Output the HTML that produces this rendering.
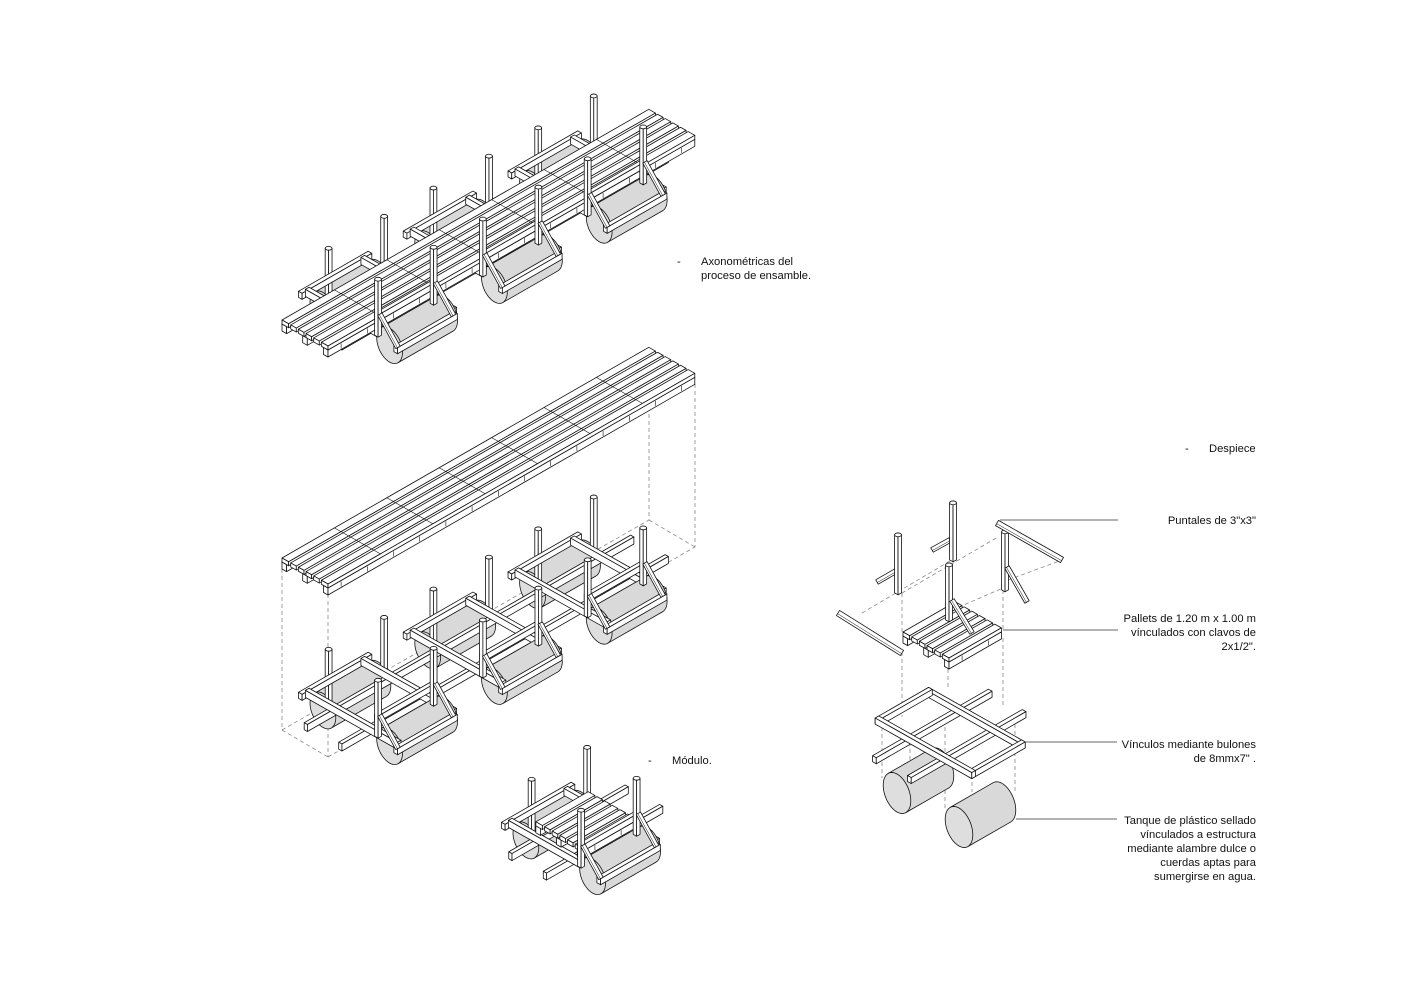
<!DOCTYPE html>
<html><head><meta charset="utf-8">
<style>
html,body{margin:0;padding:0;background:#fff;}
body{width:1414px;height:1000px;overflow:hidden;position:relative;}
svg{position:absolute;left:0;top:0;}
.t{font-family:"Liberation Sans",Arial,sans-serif;font-size:11.2px;fill:#111;}
.r{text-anchor:end;}
</style></head><body>
<svg id="d" width="1414" height="1000" viewBox="0 0 1414 1000" xmlns="http://www.w3.org/2000/svg">
<rect width="1414" height="1000" fill="#fff"/>
<g id="g"></g>
<g id="lead" stroke="#333" stroke-width="0.8">
<line x1="1000" y1="520" x2="1118" y2="520"/>
<line x1="1003" y1="630" x2="1118" y2="630"/>
<line x1="1024" y1="742" x2="1117" y2="742"/>
<line x1="1016" y1="819" x2="1117" y2="819"/>
</g>
<g id="txt">
<text class="t" x="677" y="265">-</text>
<text class="t" x="701" y="265">Axonométricas del</text>
<text class="t" x="701" y="279">proceso de ensamble.</text>
<text class="t" x="1185" y="452">-</text>
<text class="t" x="1209" y="452">Despiece</text>
<text class="t" x="648" y="764">-</text>
<text class="t" x="672" y="764">Módulo.</text>
<text class="t r" x="1256" y="524">Puntales de 3"x3"</text>
<text class="t r" x="1256" y="622">Pallets de 1.20 m x 1.00 m</text>
<text class="t r" x="1256" y="636">vínculados con clavos de</text>
<text class="t r" x="1256" y="650">2x1/2".</text>
<text class="t r" x="1256" y="748">Vínculos mediante bulones</text>
<text class="t r" x="1256" y="762">de 8mmx7" .</text>
<text class="t r" x="1256" y="824">Tanque de plástico sellado</text>
<text class="t r" x="1256" y="838">vínculados a estructura</text>
<text class="t r" x="1256" y="852">mediante alambre dulce o</text>
<text class="t r" x="1256" y="866">cuerdas aptas para</text>
<text class="t r" x="1256" y="880">sumergirse en agua.</text>
</g>
</svg>
<script>
(function(){
const g=document.getElementById('g');
const NS='http://www.w3.org/2000/svg';
const A=[52.4,-30.1],B=[46,26];
const SW=0.8;
function P(o,x,y,z){return[o[0]+x*A[0]+y*B[0],o[1]+x*A[1]+y*B[1]-z];}
function el(n,at){const e=document.createElementNS(NS,n);for(const k in at)e.setAttribute(k,at[k]);g.appendChild(e);return e;}
function pts(a){return a.map(p=>p[0].toFixed(2)+','+p[1].toFixed(2)).join(' ');}
function poly(a,fill,sw){el('polygon',{points:pts(a),fill:fill||'#fff',stroke:'#111','stroke-width':sw||SW,'stroke-linejoin':'round'});}
function ln(p,q,o){o=o||{};el('line',{x1:p[0].toFixed(2),y1:p[1].toFixed(2),x2:q[0].toFixed(2),y2:q[1].toFixed(2),stroke:o.c||'#111','stroke-width':o.w||SW,'stroke-dasharray':o.d||'none','stroke-linecap':'butt'});}
function dash(p,q){ln(p,q,{c:'#8a8a8a',w:0.8,d:'4 3'});}
function box(o,x0,x1,y0,y1,z0,z1,fill){
 poly([P(o,x0,y0,z1),P(o,x1,y0,z1),P(o,x1,y1,z1),P(o,x0,y1,z1)],fill);
 poly([P(o,x0,y0,z1),P(o,x0,y1,z1),P(o,x0,y1,z0),P(o,x0,y0,z0)],fill);
 poly([P(o,x0,y1,z1),P(o,x1,y1,z1),P(o,x1,y1,z0),P(o,x0,y1,z0)],fill);
}
function obar(p,q,w){
 const dx=q[0]-p[0],dy=q[1]-p[1],L=Math.hypot(dx,dy),ux=dx/L,uy=dy/L,nx=-uy*w/2,ny=ux*w/2;
 poly([[p[0]+nx,p[1]+ny],[q[0]+nx,q[1]+ny],[q[0]-nx,q[1]-ny],[p[0]-nx,p[1]-ny]]);
 ln([p[0]+nx*0.25,p[1]+ny*0.25],[q[0]+nx*0.25,q[1]+ny*0.25],{w:0.5});
}
function cyl(o,x0,x1,yc,zc,ry,rz,fill){
 fill=fill||'#d9d9d9';
 const U=[ry*B[0],ry*B[1]],V=[0,-rz];
 const c0=P(o,x0,yc,zc),c1=P(o,x1,yc,zc);
 const E=(c,t)=>[c[0]+U[0]*Math.cos(t)+V[0]*Math.sin(t),c[1]+U[1]*Math.cos(t)+V[1]*Math.sin(t)];
 const ell=c=>{const a=[];for(let i=0;i<64;i++)a.push(E(c,i/64*2*Math.PI));return a;};
 const cr=(p,q)=>p[0]*q[1]-p[1]*q[0];
 const t0=Math.atan2(cr(V,A),cr(U,A));
 poly(ell(c1),fill);
 el('polygon',{points:pts([E(c0,t0),E(c1,t0),E(c1,t0+Math.PI),E(c0,t0+Math.PI)]),fill:fill,stroke:'none'});
 ln(E(c0,t0),E(c1,t0));ln(E(c0,t0+Math.PI),E(c1,t0+Math.PI));
 poly(ell(c0),'#dedede');
}
function deck(o,xs,n){
 const xe=xs+n;
 for(const s of [[0,0.1],[0.45,0.55],[0.9,1.0]]) box(o,xs,xe,s[0],s[1],-11,-4);
 for(let i=0;i<n*2;i++){const x=xs+0.25+i*0.5;ln(P(o,x,1,-5),P(o,x,1,-10),{w:0.6});}
 const nb=6,w=1/nb,gp=0.045;
 for(let i=0;i<nb;i++) box(o,xs,xe,i*w+(i?gp/2:0),(i+1)*w-(i<nb-1?gp/2:0),-4,0);
 for(let i=1;i<n;i++) ln(P(o,xs+i,0,0),P(o,xs+i,1,0),{w:0.6});
}
function cap(c){
 el('ellipse',{cx:c[0].toFixed(2),cy:c[1].toFixed(2),rx:3.4,ry:1.9,fill:'#fff',stroke:'#111','stroke-width':SW});
}
function X0(k){return 0.92+2*k;}
function post(o,x,yb,z0,z1){box(o,x-0.03,x+0.035,yb,yb+0.075,z0,z1);cap(P(o,x+0.0025,yb+0.0375,z1));}
function backTank(o,k){const x0=X0(k);cyl(o,x0+0.08,x0+1.13,-0.25,-26,0.28,17);}
function backPosts(o,k){const x0=X0(k),x1=x0+1.06;post(o,x1,-0.075,-16,43);post(o,x0,-0.075,-16,43);}
function backBar(o,k){const x0=X0(k),x1=x0+1.06;box(o,x0-0.15,x1+0.12,-0.52,-0.44,-14,-8);}
function rods(o,xa,xb){box(o,xa,xb,-0.03,0.04,-23,-16);box(o,xa,xb,0.72,0.79,-23,-16);}
function cross(o,x){box(o,x-0.035,x+0.035,-0.5,1.5,-16,-9);}
function front(o,k,withCross){
 const x0=X0(k),x1=x0+1.06;
 if(withCross)cross(o,x1);
 cyl(o,x0+0.08,x0+1.13,1.2,-24,0.28,17);
 if(withCross)cross(o,x0);
 box(o,x0-0.03,x1+0.035,1.0,1.075,0,6);
 post(o,x1,1.0,-16,40);post(o,x0,1.0,-16,40);
 box(o,x0-0.04,x1+0.04,1.43,1.51,-21,-15);
 obar(P(o,x1+0.003,1.075,6),P(o,x1+0.003,1.47,-17),5);
 obar(P(o,x0+0.003,1.075,6),P(o,x0+0.003,1.47,-17),5);
}

/* ---------- Figure 1 (assembled) ---------- */
const O1=[282,320];
for(let k=2;k>=0;k--)backTank(O1,k);
for(let k=2;k>=0;k--)backPosts(O1,k);
for(let k=2;k>=0;k--)backBar(O1,k);
rods(O1,0.45,6.68);
for(let k=2;k>=0;k--){cross(O1,X0(k)+1.06);cross(O1,X0(k));}
deck(O1,0,7);
for(let k=2;k>=0;k--)front(O1,k,false);

/* ---------- Figure 2 (exploded deck) ---------- */
const O2d=[282,558],O2s=[282,721];
dash([282,569],[282,730]);dash([328,594],[328,757]);
dash([649,358],[649,520]);dash([695,384],[695,547]);
dash([282,730],[328,757]);dash([282,730],[649,520]);
dash([328,757],[695,547]);dash([649,520],[695,547]);
for(let k=2;k>=0;k--)backTank(O2s,k);
for(let k=2;k>=0;k--)backPosts(O2s,k);
for(let k=2;k>=0;k--)backBar(O2s,k);
rods(O2s,0.45,6.68);
for(let k=2;k>=0;k--)front(O2s,k,true);
deck(O2d,0,7);

/* ---------- Module ---------- */
const Om=[485,851];
backTank(Om,0);backPosts(Om,0);backBar(Om,0);
rods(Om,0.48,2.7);
cross(Om,X0(0)+1.06);cross(Om,X0(0));
deck(Om,0.97,1);
front(Om,0,false);

/* ---------- Despiece ---------- */
dash([862,613],[950,561]);dash([902,593],[998,537]);
dash([952,610],[1003,588]);dash([1008,580],[1062,560]);
dash([902,593],[902,633]);dash([902,652],[902,717]);
dash([948,662],[948,690]);dash([1003,590],[1003,630]);dash([1003,638],[1003,708]);
dash([882,727],[882,778]);dash([910,742],[910,775]);dash([945,720],[945,808]);
dash([972,775],[972,792]);dash([1015,717],[1015,792]);
function post2(cx,yb,h){const o=[cx,yb];box(o,-0.03,0.035,-0.04,0.035,0,h);cap(P(o,0.0025,-0.0025,h));}
// post B
obar([932,550],[950,540],5);post2(953,560,57);
// post A
obar([877,582],[896,571],5);post2(898,593,58);
// post C + beam + brace
post2(1005,590,58);
obar([997,523],[1062,560],6);
obar([1007,567],[1027,602],5);
// left beam
obar([838,613],[902,653],6);
// pallet
deck([903,632],0,1);
// post D + brace
post2(949,620,55);
obar([952,600],[972,633],5);
// tanks
cyl([897,793],0,0.82,0,0,0.3,19);
cyl([959,827],0,0.82,0,0,0.3,19);
// frame (#): rectangle 1A x 2.1B with two long rods beneath
const Of=[877,717];
box(Of,-0.69,1.52,0.69,0.77,-6,0);
box(Of,-0.69,1.5,1.45,1.53,-6,0);
box(Of,0.915,0.985,0,2.1,-6,0);      // back b-beam
box(Of,-0.035,0.985,0,0.08,-6,0);    // left short side
box(Of,-0.035,0.985,2.02,2.1,-6,0);  // right short side
box(Of,-0.035,0.035,0,2.1,-6,0);     // front b-beam
})();
</script>
</body></html>
